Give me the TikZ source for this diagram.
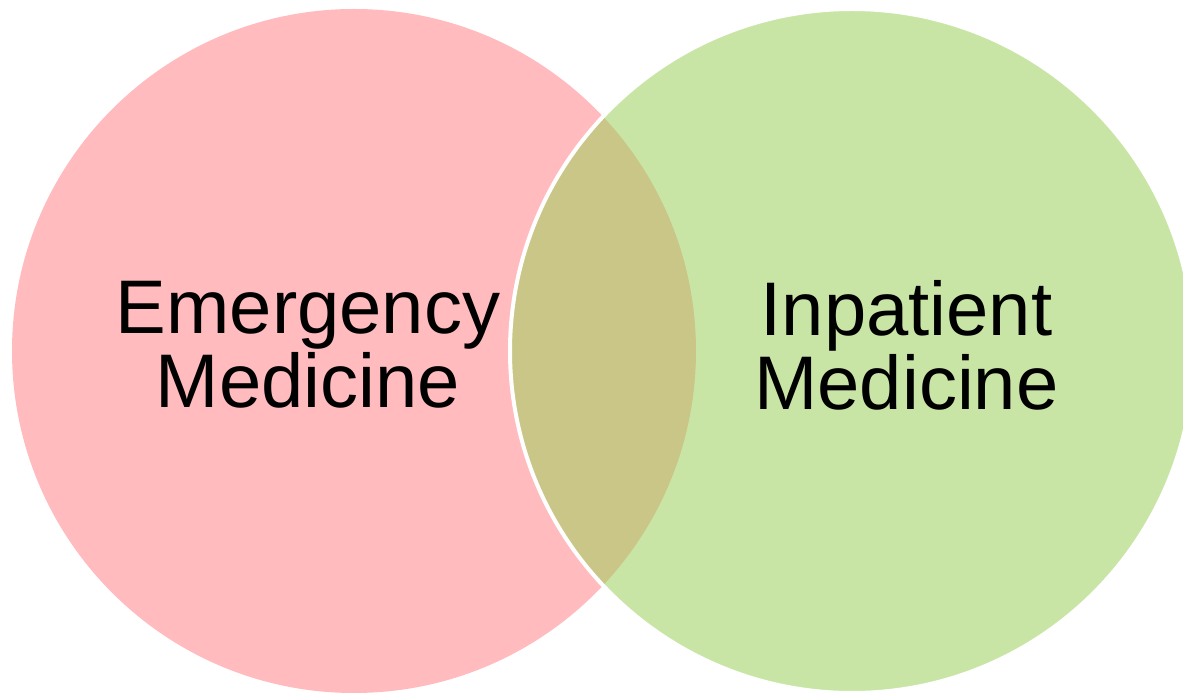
\documentclass[tikz,border=0pt]{standalone}
\usepackage{fontspec}
\setmainfont{Liberation Sans}
\usetikzlibrary{positioning}

\definecolor{emred}{RGB}{255,187,190}
\definecolor{ipgreen}{RGB}{157,208,93}

\begin{document}
\begin{tikzpicture}[x=0.5pt, y=-0.5pt,
    setcircle/.style={circle, minimum size=342pt, inner sep=0pt},
    setlabel/.style={font=\fontsize{38}{37}\selectfont, align=center, text=black}]
  \useasboundingbox (0,0) rectangle (1183,694);
  % the two sets, green one see-through with a white rim
  \node[setcircle, fill=emred] (em) at (354,351) {};
  \node[setcircle, fill=ipgreen, fill opacity=0.55, draw=white, line width=2pt] (ip) at (852,351) {};
  % labels
  \node[setlabel] (emlabel) at (308,345) {Emergency\\Medicine};
  \node[setlabel] (iplabel) at (906.5,345) {Inpatient\\Medicine};
\end{tikzpicture}
\end{document}
